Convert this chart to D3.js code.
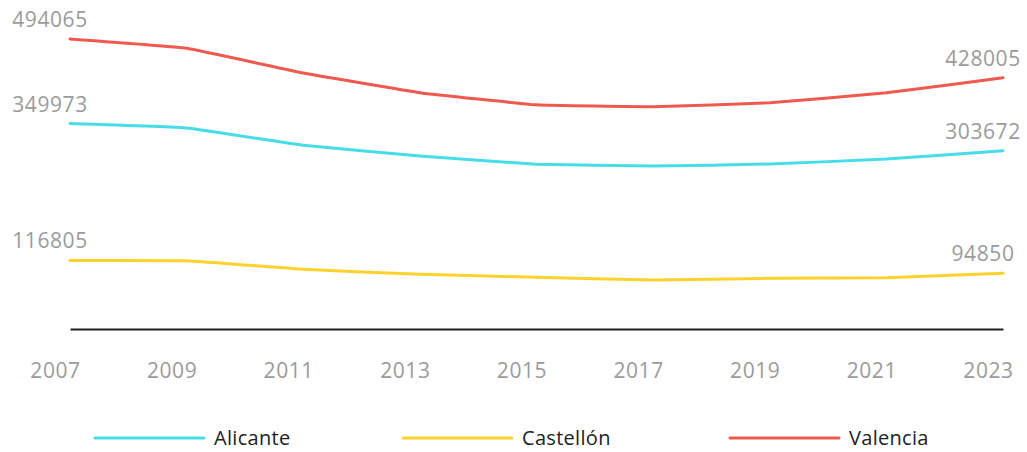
<!DOCTYPE html>
<html>

<head>
  <meta charset="utf-8">
  <title>Line Chart Provincias</title>
  <script type="text/javascript" src="https://cdn.jsdelivr.net/npm/d3@7"></script>
  <style>
    body { margin: 0; background: #fff; }
    .chart text { font-family: "Open Sans", sans-serif; }
    .axis text { fill: #9b9b9b; font-size: 21px; letter-spacing: 0.6px; }
    .point-label { fill: #9b9b9b; font-size: 21px; text-anchor: middle; letter-spacing: 0.6px; }
    .legend text { fill: #222; font-family: "Open Sans", sans-serif; font-size: 20px; letter-spacing: 0.3px; }
  </style>
</head>

<body>
  <svg class="chart"></svg>
</body>
<script>
  //1. Data
  var years = [2007, 2009, 2011, 2013, 2015, 2017, 2019, 2021, 2023];
  var alicante = [349973, 342400, 312900, 294700, 280700, 277700, 281100, 289600, 303672];
  var castellon = [116805, 116300, 101700, 93200, 88100, 83500, 86400, 87400, 94850];
  var valencia = [494065, 478200, 436100, 402600, 381900, 378700, 385500, 402600, 428005];
  var seriesNames = ["Alicante", "Castellón", "Valencia"];
  var seriesColors = ["#46dde9", "#ffd12c", "#ef5a4f"];

  var series = [alicante, castellon, valencia].map(function(vals, i) {
    return { name: seriesNames[i], color: seriesColors[i], values: vals };
  });

  //2. Sizes
  var width = 1027, height = 452;
  var legendX = [95, 403, 730];

  //3. Scales
  var x = d3.scaleLinear()
    .domain([d3.min(years), d3.max(years)])
    .range([70, 1003]);

  var y = d3.scaleLinear()
    .domain([0, d3.max(valencia)])
    .range([329, 39]);

  //4. Chart
  var svg = d3.select(".chart")
    .attr("width", width)
    .attr("height", height);

  //5. X axis (the zero baseline)
  var xAxis = svg.append("g")
    .attr("class", "axis")
    .attr("transform", "translate(0," + y(0) + ")")
    .call(d3.axisBottom(x).tickValues(years).tickFormat(d3.format("d")).tickSize(0));

  xAxis.select(".domain")
    .attr("stroke", "#222")
    .attr("stroke-width", 2);

  xAxis.selectAll("text")
    .attr("dx", -15)
    .attr("y", 49)
    .attr("dy", 0);

  //6. Lines
  var line = d3.line()
    .x(function(d, i) { return x(years[i]); })
    .y(function(d) { return y(d); })
    .curve(d3.curveCardinal.tension(0.7));

  svg.selectAll(".series")
    .data(series)
    .enter().append("path")
    .attr("class", "series")
    .attr("fill", "none")
    .attr("stroke", function(d) { return d.color; })
    .attr("stroke-width", 3)
    .attr("stroke-linecap", "round")
    .attr("d", function(d) { return line(d.values); });

  //7. First and last value labels
  series.forEach(function(s) {
    var last = s.values.length - 1;
    [0, last].forEach(function(i) {
      svg.append("text")
        .attr("class", "point-label")
        .attr("x", x(years[i]) - 20)
        .attr("y", y(s.values[i]) - 12)
        .text(s.values[i]);
    });
  });

  //8. Legend
  var legend = svg.selectAll(".legend")
    .data(series)
    .enter().append("g")
    .attr("class", "legend")
    .attr("transform", function(d, i) { return "translate(" + legendX[i] + ",438)"; });

  legend.append("line")
    .attr("x1", 0).attr("x2", 109)
    .attr("stroke", function(d) { return d.color; })
    .attr("stroke-width", 3)
    .attr("stroke-linecap", "round");

  legend.append("text")
    .attr("x", 119)
    .attr("y", 7)
    .text(function(d) { return d.name; });
</script>

</html>
